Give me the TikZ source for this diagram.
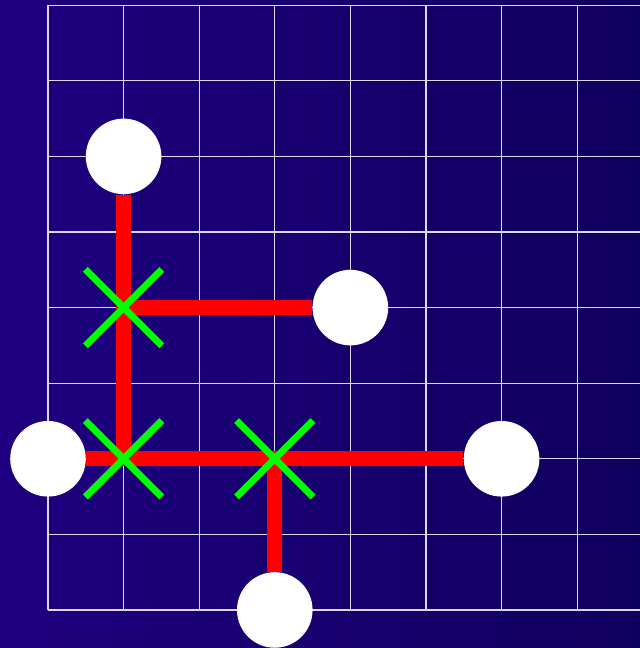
\documentclass[tikz,border=0pt]{standalone}
\usepackage{xcolor}
\usepackage{tikz}
\usetikzlibrary{shapes.misc}
\definecolor{bgleft}{RGB}{31,0,128}
\definecolor{bgright}{RGB}{16,0,94}

\begin{document}
\begin{tikzpicture}[x=1cm,y=1cm,
  dot/.style={circle,fill=white,minimum size=1cm,inner sep=0pt},
  joint/.style={cross out,draw=green,line width=2.6pt,minimum size=0.92cm,inner sep=0pt},
  wire/.style={red,line width=5.6pt}]
  \shade[left color=bgleft,right color=bgright] (-0.635,-0.503) rectangle (7.831,8.069);
  \useasboundingbox (-0.635,-0.503) rectangle (7.831,8.069);
  \draw[white,line width=0.4pt,opacity=0.85] (0,0) grid (7.831,8);
  % terminals
  \node[dot] (top) at (1,6) {};
  \node[dot] (mid) at (4,4) {};
  \node[dot] (left) at (0,2) {};
  \node[dot] (right) at (6,2) {};
  \node[dot] (bottom) at (3,0) {};
  % junctions
  \coordinate (j1) at (1,4);
  \coordinate (j2) at (1,2);
  \coordinate (j3) at (3,2);
  \draw[wire] (top) -- (j2);
  \draw[wire] (j1) -- (mid);
  \draw[wire] (left) -- (right);
  \draw[wire] (j3) -- (bottom);
  \node[joint] at (j1) {};
  \node[joint] at (j2) {};
  \node[joint] at (j3) {};
\end{tikzpicture}
\end{document}
